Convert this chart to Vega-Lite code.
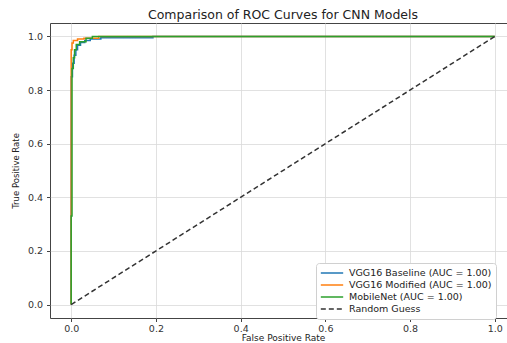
{
  "$schema": "https://vega.github.io/schema/vega-lite/v6.json",
  "autosize": "none",
  "width": 466,
  "height": 295,
  "padding": {"left": 50, "top": 23, "right": 0, "bottom": 25},
  "background": "white",
  "config": {
    "font": "DejaVu Sans",
    "view": {"stroke": "#444", "strokeWidth": 1},
    "axis": {
      "gridColor": "#d9d9d9",
      "gridWidth": 0.8,
      "domain": false,
      "tickColor": "#444",
      "tickSize": 3.5,
      "labelFontSize": 9.5,
      "labelColor": "#333",
      "titleFontSize": 9,
      "titleFontWeight": "normal",
      "titleColor": "#222",
      "labelFont": "DejaVu Sans",
      "titleFont": "DejaVu Sans"
    }
  },
  "title": {
    "text": "Comparison of ROC Curves for CNN Models",
    "fontSize": 12.5,
    "fontWeight": "normal",
    "font": "DejaVu Sans",
    "color": "#222",
    "offset": 2
  },
  "data": {
    "values": [
      {"model": "VGG16 Baseline (AUC = 1.00)", "i": 0, "fpr": 0, "tpr": 0},
      {"model": "VGG16 Baseline (AUC = 1.00)", "i": 1, "fpr": 0, "tpr": 0.85},
      {"model": "VGG16 Baseline (AUC = 1.00)", "i": 2, "fpr": 0.003, "tpr": 0.85},
      {"model": "VGG16 Baseline (AUC = 1.00)", "i": 3, "fpr": 0.003, "tpr": 0.9},
      {"model": "VGG16 Baseline (AUC = 1.00)", "i": 4, "fpr": 0.007, "tpr": 0.9},
      {"model": "VGG16 Baseline (AUC = 1.00)", "i": 5, "fpr": 0.007, "tpr": 0.93},
      {"model": "VGG16 Baseline (AUC = 1.00)", "i": 6, "fpr": 0.011, "tpr": 0.93},
      {"model": "VGG16 Baseline (AUC = 1.00)", "i": 7, "fpr": 0.011, "tpr": 0.95},
      {"model": "VGG16 Baseline (AUC = 1.00)", "i": 8, "fpr": 0.015, "tpr": 0.95},
      {"model": "VGG16 Baseline (AUC = 1.00)", "i": 9, "fpr": 0.015, "tpr": 0.967},
      {"model": "VGG16 Baseline (AUC = 1.00)", "i": 10, "fpr": 0.022, "tpr": 0.967},
      {"model": "VGG16 Baseline (AUC = 1.00)", "i": 11, "fpr": 0.022, "tpr": 0.977},
      {"model": "VGG16 Baseline (AUC = 1.00)", "i": 12, "fpr": 0.032, "tpr": 0.977},
      {"model": "VGG16 Baseline (AUC = 1.00)", "i": 13, "fpr": 0.032, "tpr": 0.985},
      {"model": "VGG16 Baseline (AUC = 1.00)", "i": 14, "fpr": 0.045, "tpr": 0.985},
      {"model": "VGG16 Baseline (AUC = 1.00)", "i": 15, "fpr": 0.045, "tpr": 0.99},
      {"model": "VGG16 Baseline (AUC = 1.00)", "i": 16, "fpr": 0.07, "tpr": 0.99},
      {"model": "VGG16 Baseline (AUC = 1.00)", "i": 17, "fpr": 0.07, "tpr": 0.995},
      {"model": "VGG16 Baseline (AUC = 1.00)", "i": 18, "fpr": 0.193, "tpr": 0.995},
      {"model": "VGG16 Baseline (AUC = 1.00)", "i": 19, "fpr": 0.193, "tpr": 1},
      {"model": "VGG16 Baseline (AUC = 1.00)", "i": 20, "fpr": 1, "tpr": 1},
      {"model": "VGG16 Modified (AUC = 1.00)", "i": 0, "fpr": 0, "tpr": 0},
      {"model": "VGG16 Modified (AUC = 1.00)", "i": 1, "fpr": 0, "tpr": 0.95},
      {"model": "VGG16 Modified (AUC = 1.00)", "i": 2, "fpr": 0.002, "tpr": 0.95},
      {"model": "VGG16 Modified (AUC = 1.00)", "i": 3, "fpr": 0.002, "tpr": 0.975},
      {"model": "VGG16 Modified (AUC = 1.00)", "i": 4, "fpr": 0.005, "tpr": 0.975},
      {"model": "VGG16 Modified (AUC = 1.00)", "i": 5, "fpr": 0.005, "tpr": 0.985},
      {"model": "VGG16 Modified (AUC = 1.00)", "i": 6, "fpr": 0.015, "tpr": 0.985},
      {"model": "VGG16 Modified (AUC = 1.00)", "i": 7, "fpr": 0.015, "tpr": 0.99},
      {"model": "VGG16 Modified (AUC = 1.00)", "i": 8, "fpr": 0.03, "tpr": 0.99},
      {"model": "VGG16 Modified (AUC = 1.00)", "i": 9, "fpr": 0.03, "tpr": 0.993},
      {"model": "VGG16 Modified (AUC = 1.00)", "i": 10, "fpr": 0.065, "tpr": 0.993},
      {"model": "VGG16 Modified (AUC = 1.00)", "i": 11, "fpr": 0.065, "tpr": 1},
      {"model": "VGG16 Modified (AUC = 1.00)", "i": 12, "fpr": 1, "tpr": 1},
      {"model": "MobileNet (AUC = 1.00)", "i": 0, "fpr": 0, "tpr": 0},
      {"model": "MobileNet (AUC = 1.00)", "i": 1, "fpr": 0, "tpr": 0.33},
      {"model": "MobileNet (AUC = 1.00)", "i": 2, "fpr": 0.002, "tpr": 0.33},
      {"model": "MobileNet (AUC = 1.00)", "i": 3, "fpr": 0.002, "tpr": 0.88},
      {"model": "MobileNet (AUC = 1.00)", "i": 4, "fpr": 0.005, "tpr": 0.88},
      {"model": "MobileNet (AUC = 1.00)", "i": 5, "fpr": 0.005, "tpr": 0.92},
      {"model": "MobileNet (AUC = 1.00)", "i": 6, "fpr": 0.008, "tpr": 0.92},
      {"model": "MobileNet (AUC = 1.00)", "i": 7, "fpr": 0.008, "tpr": 0.95},
      {"model": "MobileNet (AUC = 1.00)", "i": 8, "fpr": 0.012, "tpr": 0.95},
      {"model": "MobileNet (AUC = 1.00)", "i": 9, "fpr": 0.012, "tpr": 0.97},
      {"model": "MobileNet (AUC = 1.00)", "i": 10, "fpr": 0.02, "tpr": 0.97},
      {"model": "MobileNet (AUC = 1.00)", "i": 11, "fpr": 0.02, "tpr": 0.98},
      {"model": "MobileNet (AUC = 1.00)", "i": 12, "fpr": 0.035, "tpr": 0.98},
      {"model": "MobileNet (AUC = 1.00)", "i": 13, "fpr": 0.035, "tpr": 0.993},
      {"model": "MobileNet (AUC = 1.00)", "i": 14, "fpr": 0.05, "tpr": 0.993},
      {"model": "MobileNet (AUC = 1.00)", "i": 15, "fpr": 0.05, "tpr": 1},
      {"model": "MobileNet (AUC = 1.00)", "i": 16, "fpr": 1, "tpr": 1},
      {"model": "Random Guess", "i": 0, "fpr": 0, "tpr": 0},
      {"model": "Random Guess", "i": 1, "fpr": 1, "tpr": 1}
    ]
  },
  "mark": {"type": "line", "strokeWidth": 1.5, "clip": true},
  "encoding": {
    "x": {
      "field": "fpr", "type": "quantitative",
      "scale": {"domain": [-0.05, 1.05], "nice": false, "zero": false},
      "axis": {"values": [0, 0.2, 0.4, 0.6, 0.8, 1.0], "format": ".1f", "title": "False Positive Rate", "titlePadding": 0, "labelPadding": 2}
    },
    "y": {
      "field": "tpr", "type": "quantitative",
      "scale": {"domain": [-0.05, 1.05], "nice": false, "zero": false},
      "axis": {"values": [0, 0.2, 0.4, 0.6, 0.8, 1.0], "format": ".1f", "title": "True Positive Rate", "titlePadding": 7, "labelPadding": 4, "titleFontSize": 8.5}
    },
    "order": {"field": "i", "type": "quantitative"},
    "color": {
      "field": "model", "type": "nominal",
      "scale": {
        "domain": ["VGG16 Baseline (AUC = 1.00)", "VGG16 Modified (AUC = 1.00)", "MobileNet (AUC = 1.00)", "Random Guess"],
        "range": ["#1f77b4", "#ff7f0e", "#2ca02c", "#333333"]
      },
      "legend": {
        "title": null,
        "orient": "none",
        "legendX": 266,
        "legendY": 240,
        "fillColor": "white",
        "strokeColor": "#d0d0d0",
        "cornerRadius": 3,
        "padding": 4,
        "symbolType": "stroke",
        "symbolSize": 500,
        "symbolStrokeWidth": 1.5,
        "labelFontSize": 9.5,
        "labelColor": "#222",
        "labelFont": "DejaVu Sans",
        "labelOffset": 5,
        "clipHeight": 12,
        "rowPadding": 0
      }
    },
    "strokeDash": {
      "field": "model", "type": "nominal",
      "scale": {
        "domain": ["VGG16 Baseline (AUC = 1.00)", "VGG16 Modified (AUC = 1.00)", "MobileNet (AUC = 1.00)", "Random Guess"],
        "range": [[1, 0], [1, 0], [1, 0], [5, 3]]
      },
      "legend": {
        "title": null,
        "orient": "none",
        "legendX": 266,
        "legendY": 240,
        "fillColor": "white",
        "strokeColor": "#d0d0d0",
        "cornerRadius": 3,
        "padding": 4,
        "symbolType": "stroke",
        "symbolSize": 500,
        "symbolStrokeWidth": 1.5,
        "labelFontSize": 9.5,
        "labelColor": "#222",
        "labelFont": "DejaVu Sans",
        "labelOffset": 5,
        "clipHeight": 12,
        "rowPadding": 0
      }
    }
  }
}
